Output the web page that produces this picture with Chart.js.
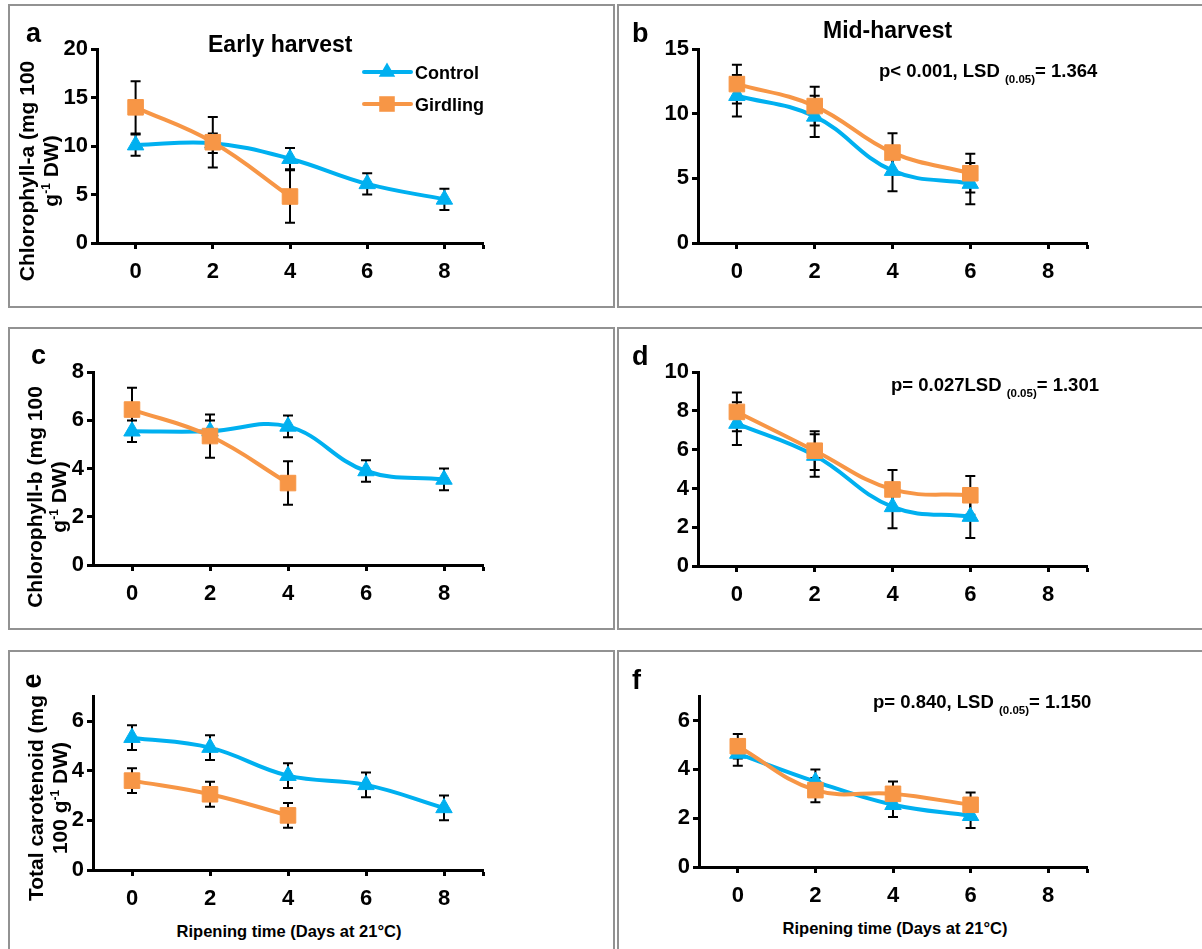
<!DOCTYPE html>
<html>
<head>
<meta charset="utf-8">
<script src="https://cdn.jsdelivr.net/npm/chart.js@4.4.1/dist/chart.umd.min.js"></script>
<style>
  body { margin: 0; background: #fff; }
  #page {
    position: relative; width: 1202px; height: 949px; overflow: hidden;
    font-family: "Liberation Sans", Arial, sans-serif; font-weight: bold; color: #000;
  }
  .panel { position: absolute; box-sizing: border-box; border: 2px solid #929292; }
  canvas { position: absolute; }
  .txt { position: absolute; white-space: nowrap; line-height: 1; z-index: 2; }
  .letter { font-size: 27px; }
  .head { font-size: 23px; }
  .stat { font-size: 18.5px; }
  .stat sub { font-size: 11.5px; line-height: 0; vertical-align: -6px; }
  .xtitle { font-size: 16.5px; transform: translateX(-50%); }
  .rot { position: absolute; white-space: nowrap; text-align: center; z-index: 2;
         transform: translate(-50%, -50%) rotate(-90deg); }
  .ytitle { font-size: 21px; line-height: 23.5px; }
  .ytitle sup { font-size: 12px; line-height: 0; vertical-align: 8px; }
</style>
</head>
<body>
<div id="page">
  <div class="panel" style="left:8px;top:4px;width:607px;height:304px"></div>
  <div class="panel" style="left:617px;top:4px;width:600px;height:304px"></div>
  <div class="panel" style="left:8px;top:327px;width:607px;height:303px"></div>
  <div class="panel" style="left:617px;top:327px;width:600px;height:303px"></div>
  <div class="panel" style="left:8px;top:650px;width:607px;height:320px"></div>
  <div class="panel" style="left:617px;top:650px;width:600px;height:320px"></div>

  <div class="txt letter" style="left:26px;top:20px">a</div>
  <div class="txt letter" style="left:632px;top:20px">b</div>
  <div class="txt letter" style="left:31px;top:342px">c</div>
  <div class="txt letter" style="left:632px;top:343px">d</div>
  <div class="rot letter" style="left:32px;top:681px;line-height:1">e</div>
  <div class="txt letter" style="left:632px;top:667px">f</div>

  <div class="txt head" style="left:208px;top:33px">Early harvest</div>
  <div class="txt head" style="left:823px;top:19px">Mid-harvest</div>

  <div class="txt stat" style="left:879px;top:62px">p&lt; 0.001, LSD <sub>(0.05)</sub>= 1.364</div>
  <div class="txt stat" style="left:891px;top:376px">p= 0.027LSD <sub>(0.05)</sub>= 1.301</div>
  <div class="txt stat" style="left:873px;top:693px">p= 0.840, LSD <sub>(0.05)</sub>= 1.150</div>

  <div class="rot ytitle" style="left:38px;top:171px">Chlorophyll-a (mg 100<br>g<sup>-1</sup> DW)</div>
  <div class="rot ytitle" style="left:46px;top:497px">Chlorophyll-b (mg 100<br>g<sup>-1</sup> DW)</div>
  <div class="rot ytitle" style="left:47px;top:798px">Total carotenoid (mg<br>100 g<sup>-1</sup> DW)</div>

  <div class="txt xtitle" style="left:289px;top:923px">Ripening time (Days at 21°C)</div>
  <div class="txt xtitle" style="left:895px;top:920px">Ripening time (Days at 21°C)</div>
</div>

<script>
const days = [0, 2, 4, 6, 8];
const xTicks = [0, 2, 4, 6, 8];

// Chlorophyll-a (mg 100 g-1 DW)
const chlAEarlyControl = [10.1, 10.3, 8.7, 6.1, 4.5];
const chlAEarlyControlSe = [1.1, 1.0, 1.1, 1.1, 1.1];
const chlAEarlyGirdling = [14.0, 10.4, 4.8];
const chlAEarlyGirdlingSe = [2.7, 2.6, 2.7];
const chlAMidControl = [11.4, 9.8, 5.6, 4.6];
const chlAMidControlSe = [1.6, 1.6, 1.6, 1.6];
const chlAMidGirdling = [12.3, 10.6, 7.0, 5.4];
const chlAMidGirdlingSe = [1.5, 1.5, 1.5, 1.5];

// Chlorophyll-b
const chlBEarlyControl = [5.55, 5.55, 5.75, 3.9, 3.55];
const chlBEarlyControlSe = [0.45, 0.45, 0.45, 0.45, 0.45];
const chlBEarlyGirdling = [6.45, 5.35, 3.4];
const chlBEarlyGirdlingSe = [0.9, 0.9, 0.9];
const chlBMidControl = [7.35, 5.7, 3.05, 2.55];
const chlBMidControlSe = [1.1, 1.1, 1.1, 1.1];
const chlBMidGirdling = [7.95, 5.95, 3.95, 3.65];
const chlBMidGirdlingSe = [1.0, 1.0, 1.0, 1.0];

// Total carotenoid
const carEarlyControl = [5.33, 4.93, 3.8, 3.43, 2.5];
const carEarlyControlSe = [0.5, 0.5, 0.5, 0.5, 0.5];
const carEarlyGirdling = [3.6, 3.05, 2.2];
const carEarlyGirdlingSe = [0.5, 0.5, 0.5];
const carMidControl = [4.65, 3.5, 2.55, 2.1];
const carMidControlSe = [0.5, 0.5, 0.5, 0.5];
const carMidGirdling = [4.95, 3.15, 3.0, 2.55];
const carMidGirdlingSe = [0.5, 0.5, 0.5, 0.5];

const yTicksChlA = [0, 5, 10, 15, 20];
const yTicksChlAMid = [0, 5, 10, 15];
const yTicksChlB = [0, 2, 4, 6, 8];
const yTicksChlBMid = [0, 2, 4, 6, 8, 10];
const yTicksCar = [0, 2, 4, 6];

const CONTROL = "#00B0F0";
const GIRDLING = "#F79646";
const FONT = "'Liberation Sans', Arial, sans-serif";

Chart.defaults.font.family = FONT;
Chart.defaults.font.weight = "bold";
Chart.defaults.font.size = 22;
Chart.defaults.color = "#000";

// plot sizes around the chart area
const Y_AXIS_W = 60;
const X_AXIS_H = 45;
const PAD_TOP = 16;
const PAD_RIGHT = 8;

function toPoints(values) {
    return values.map((v, i) => ({ x: days[i], y: v }));
}

// vertical standard-error bars, drawn under the lines and markers
const errorBars = {
    id: "errorBars",
    beforeDatasetsDraw(chart) {
        const { ctx, scales: { x, y } } = chart;
        ctx.save();
        ctx.strokeStyle = "#000";
        ctx.lineWidth = 2;
        chart.data.datasets.forEach(ds => {
            ds.data.forEach((pt, i) => {
                const e = ds.errors[i];
                const px = x.getPixelForValue(pt.x);
                const top = y.getPixelForValue(pt.y + e);
                const bot = y.getPixelForValue(pt.y - e);
                ctx.beginPath();
                ctx.moveTo(px, top);
                ctx.lineTo(px, bot);
                ctx.moveTo(px - 5, top);
                ctx.lineTo(px + 5, top);
                ctx.moveTo(px - 5, bot);
                ctx.lineTo(px + 5, bot);
                ctx.stroke();
            });
        });
        ctx.restore();
    }
};

function drawMarker(ctx, style, x, y, r) {
    ctx.beginPath();
    if (style === "triangle") {
        ctx.moveTo(x, y - r);
        ctx.lineTo(x + 0.866 * r, y + 0.5 * r);
        ctx.lineTo(x - 0.866 * r, y + 0.5 * r);
        ctx.closePath();
    } else {
        const s = r * Math.SQRT1_2;
        ctx.rect(x - s, y - s, 2 * s, 2 * s);
    }
    ctx.fill();
}

// series key in the early chlorophyll-a panel (page coordinates)
const legendKey = {
    id: "legendKey",
    afterDraw(chart) {
        const { ctx, canvas } = chart;
        const rows = [
            { label: "Control", color: CONTROL, style: "triangle", r: 9.5, y: 72 },
            { label: "Girdling", color: GIRDLING, style: "rect", r: 11, y: 104 }
        ];
        ctx.save();
        ctx.translate(-canvas.offsetLeft, -canvas.offsetTop);
        rows.forEach(row => {
            ctx.strokeStyle = row.color;
            ctx.fillStyle = row.color;
            ctx.lineWidth = 4;
            ctx.lineCap = "round";
            ctx.beginPath();
            ctx.moveTo(364, row.y);
            ctx.lineTo(411, row.y);
            ctx.stroke();
            drawMarker(ctx, row.style, 387, row.y, row.r);
            ctx.fillStyle = "#000";
            ctx.font = "bold 18px " + FONT;
            ctx.textBaseline = "alphabetic";
            ctx.fillText(row.label, 415, row.y + 7);
        });
        ctx.restore();
    }
};

function makeDataset(label, values, errors, color, style, radius, order) {
    return {
        label,
        data: toPoints(values),
        errors,
        borderColor: color,
        backgroundColor: color,
        borderWidth: 4,
        tension: 0.4,
        pointStyle: style,
        pointRadius: radius,
        pointBorderWidth: 1,
        pointBorderColor: color,
        pointBackgroundColor: color,
        order
    };
}

function drawPanel(area, yMax, yTicks, control, controlSe, girdling, girdlingSe, extra = []) {
    const [left, top, right, bottom] = area;
    const canvas = document.createElement("canvas");
    canvas.width = right - left + Y_AXIS_W + PAD_RIGHT;
    canvas.height = bottom - top + PAD_TOP + X_AXIS_H;
    canvas.style.left = (left - Y_AXIS_W) + "px";
    canvas.style.top = (top - PAD_TOP) + "px";
    document.getElementById("page").appendChild(canvas);

    return new Chart(canvas, {
        type: "line",
        data: {
            datasets: [
                makeDataset("Control", control, controlSe, CONTROL, "triangle", 9.5, 1),
                makeDataset("Girdling", girdling, girdlingSe, GIRDLING, "rect", 11, 0)
            ]
        },
        options: {
            responsive: false,
            animation: false,
            events: [],
            layout: { padding: { top: PAD_TOP, right: PAD_RIGHT, left: 0, bottom: 0 } },
            plugins: { legend: { display: false }, tooltip: { enabled: false } },
            scales: {
                x: {
                    type: "linear",
                    min: -1,
                    max: 9,
                    afterBuildTicks: s => { s.ticks = [...xTicks, 9].map(v => ({ value: v })); },
                    afterFit: s => { s.height = X_AXIS_H; },
                    border: { color: "#000", width: 3 },
                    grid: { drawOnChartArea: false, tickLength: 6, tickWidth: 3, tickColor: "#000" },
                    ticks: {
                        padding: 10,
                        maxRotation: 0,
                        autoSkip: false,
                        callback: v => (xTicks.includes(v) ? String(v) : "")
                    }
                },
                y: {
                    min: 0,
                    max: yMax,
                    afterBuildTicks: s => { s.ticks = yTicks.map(v => ({ value: v })); },
                    afterFit: s => { s.width = Y_AXIS_W; },
                    border: { color: "#000", width: 3 },
                    grid: { drawOnChartArea: false, tickLength: 6, tickWidth: 3, tickColor: "#000" },
                    ticks: { padding: 3 }
                }
            }
        },
        plugins: [errorBars, ...extra]
    });
}

drawPanel([97, 49, 487, 243], 20, yTicksChlA,
    chlAEarlyControl, chlAEarlyControlSe, chlAEarlyGirdling, chlAEarlyGirdlingSe, [legendKey]);
drawPanel([698, 49, 1091, 243], 15, yTicksChlAMid,
    chlAMidControl, chlAMidControlSe, chlAMidGirdling, chlAMidGirdlingSe);
drawPanel([93, 372, 487, 565], 8, yTicksChlB,
    chlBEarlyControl, chlBEarlyControlSe, chlBEarlyGirdling, chlBEarlyGirdlingSe);
drawPanel([698, 372, 1091, 566], 10, yTicksChlBMid,
    chlBMidControl, chlBMidControlSe, chlBMidGirdling, chlBMidGirdlingSe);
drawPanel([93, 696, 487, 870], 7, yTicksCar,
    carEarlyControl, carEarlyControlSe, carEarlyGirdling, carEarlyGirdlingSe);
drawPanel([699, 696, 1091, 867], 7, yTicksCar,
    carMidControl, carMidControlSe, carMidGirdling, carMidGirdlingSe);
</script>
</body>
</html>
